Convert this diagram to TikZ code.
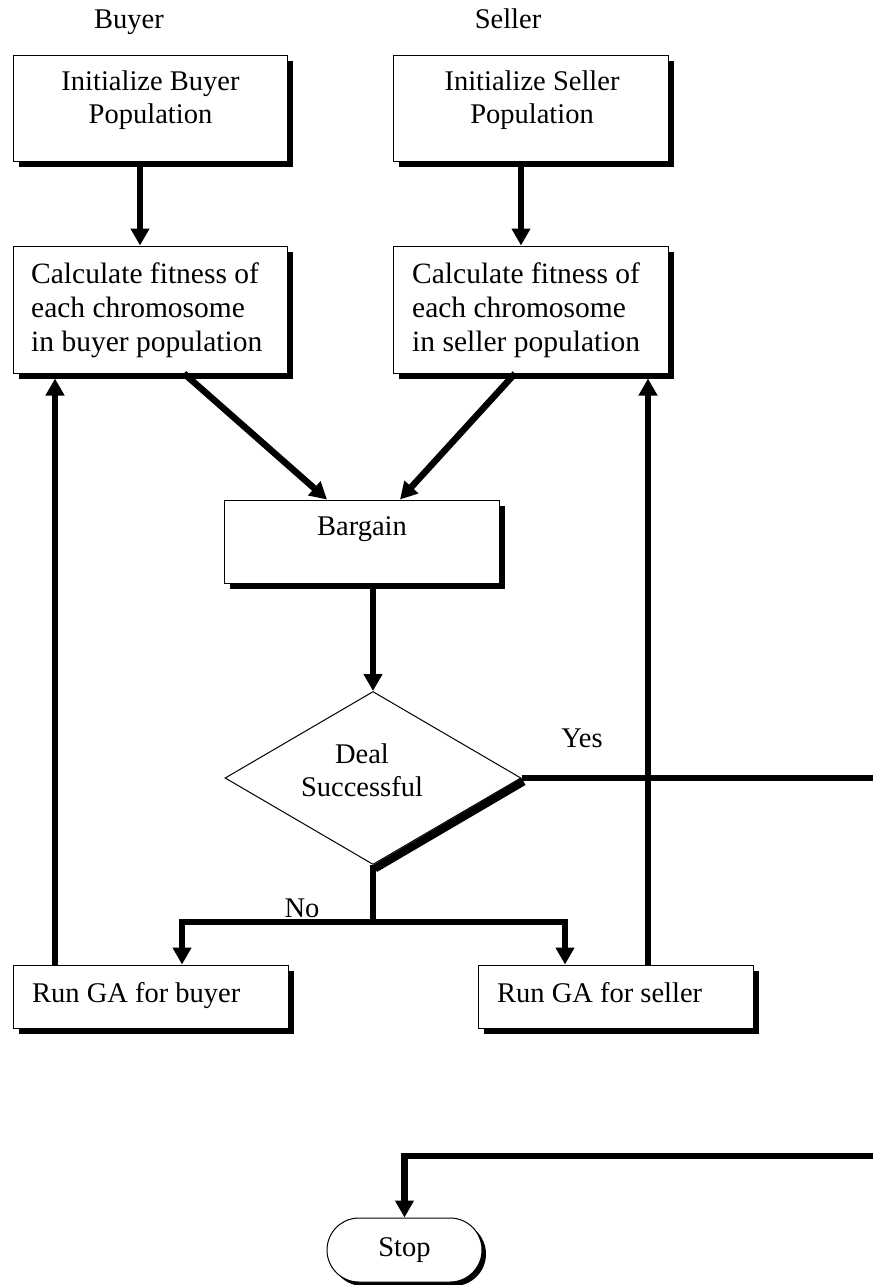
\documentclass[tikz,border=0pt]{standalone}
\usepackage{fontspec}
\setmainfont{Liberation Serif}
\usetikzlibrary{shapes.geometric,shapes.misc,shadows,arrows.meta,calc}
\begin{document}
\begin{tikzpicture}[x=1pt,y=-1pt,
  every node/.style={font=\fontsize{28.5}{33}\selectfont, inner sep=0pt},
  box/.style={draw, line width=1pt, fill=white, rectangle,
    drop shadow={shadow xshift=6pt, shadow yshift=-6pt, fill=black, opacity=1}},
  arr/.style={line width=6.5pt, -{Triangle[width=18pt,length=17pt]}},
  ln/.style={line width=6.5pt},
  lbl/.style={anchor=base},
  calc3/.style={anchor=north west, align=left, font=\fontsize{29.5}{34}\selectfont},
]
\useasboundingbox (0,0) rectangle (873,1285);

% column headings
\node[lbl] (buyer) at (129,28) {Buyer};
\node[lbl] (seller) at (508,28) {Seller};

% boxes
\node[box, minimum width=274pt, minimum height=106pt] (ib) at (150,108) {};
\node[anchor=north, align=center] (ibt) at (150.5,71) {Initialize Buyer\\Population};
\node[box, minimum width=275pt, minimum height=106pt] (is) at (530.5,108) {};
\node[anchor=north, align=center] (ist) at (532,71) {Initialize Seller\\Population};

\node[box, minimum width=274pt, minimum height=127pt] (cb) at (150,309.5) {};
\node[calc3] (cbt) at (31,263) {Calculate fitness of\\each chromosome\\in buyer population};
\node[box, minimum width=275pt, minimum height=127pt] (cs) at (530.5,309.5) {};
\node[calc3] (cst) at (412,263) {Calculate fitness of\\each chromosome\\in seller population};

\node[box, minimum width=275pt, minimum height=83pt] (bg) at (361.5,541.5) {};
\node[lbl] (bgt) at (362,535) {Bargain};

\node[diamond, draw, line width=1pt, fill=white, minimum width=296pt, minimum height=173pt] (dia) at (373,778) {};
\draw[line width=8pt] ([shift={(2pt,-3.5pt)}]dia.east) -- ([shift={(2pt,-3.5pt)}]dia.south);
\node[anchor=north, align=center] (diat) at (362,744) {Deal\\Successful};

\node[box, minimum width=275pt, minimum height=63pt] (rgb) at (150.5,996.5) {};
\node[anchor=base west] (rgbt) at (32,1002) {Run GA for buyer};
\node[box, minimum width=275pt, minimum height=63pt] (rgs) at (615.5,996.5) {};
\node[anchor=base west] (rgst) at (497,1002) {Run GA for seller};

\node[rounded rectangle, draw, line width=1pt, fill=white, minimum width=155pt, minimum height=64pt,
  drop shadow={shadow xshift=4pt, shadow yshift=-4pt, fill=black, opacity=1}] (stop) at (404.5,1250) {Stop};

% labels
\node[lbl] (yes) at (582,747) {Yes};
\node[lbl] (no) at (302,917) {No};

% coordinates
\coordinate (nj) at (373,922);
\coordinate (nl) at (182,922);
\coordinate (nr) at (565,922);
\coordinate (bx) at (55,0);
\coordinate (sx) at (648,0);
\coordinate (ye) at (873,778);
\coordinate (re) at (873,1156);

% connectors
\draw[arr] ([xshift=-10pt]ib.south) -- ([xshift=-10pt]cb.north);
\draw[arr] ([xshift=-9.5pt]is.south) -- ([xshift=-9.5pt]cs.north);
\draw[arr] ([xshift=34pt]cb.south) -- ([xshift=-34.5pt]bg.north);
\draw[arr] ([xshift=-15.5pt]cs.south) -- ([xshift=38.5pt]bg.north);
\draw[arr] (bg.south -| dia.north) -- (dia.north);
\draw[ln] (dia.east) -- (ye);
\draw[ln] (dia.south) -- (nj);
\draw[ln] (nl) -- (nr);
\draw[arr] ([yshift=3.25pt]nl) -- (nl |- rgb.north);
\draw[arr] ([yshift=3.25pt]nr) -- (nr |- rgs.north);
\draw[arr] (rgb.north -| bx) -- ([yshift=-5pt]cb.south -| bx);
\draw[arr] (rgs.north -| sx) -- ([yshift=-5pt]cs.south -| sx);
\draw[arr] (re) -- (re -| stop.north) -- (stop.north);
\end{tikzpicture}
\end{document}
